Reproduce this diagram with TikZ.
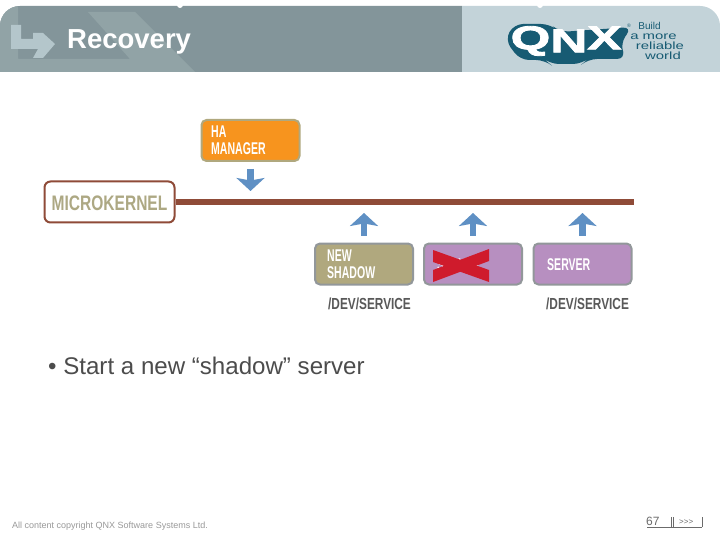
\documentclass[tikz,border=0pt]{standalone}
\usepackage{fontspec}
\usetikzlibrary{arrows.meta}
\setmainfont{Liberation Sans}
\newfontfamily\cond[FakeStretch=0.62]{Liberation Sans Bold}
\newfontfamily\condwide[FakeStretch=0.74]{Liberation Sans Bold}
\newfontfamily\logofont[FakeStretch=1.55,FakeBold=2.5]{Liberation Sans Bold}
\newfontfamily\tagfont[FakeStretch=1.42]{Liberation Sans}
\definecolor{band}{HTML}{83959A}
\definecolor{bandlight}{HTML}{91A3A6}
\definecolor{bandright}{HTML}{C3D3D9}
\definecolor{glyph}{HTML}{B4C6CB}
\definecolor{teal}{HTML}{175B73}
\definecolor{brick}{HTML}{8F4B38}
\definecolor{khaki}{HTML}{B0A87E}
\definecolor{khakitxt}{HTML}{ADA883}
\definecolor{purple}{HTML}{B78FC0}
\definecolor{edgegray}{HTML}{92979A}
\definecolor{orangebox}{HTML}{F7941E}
\definecolor{arrowblue}{HTML}{5F90C4}
\definecolor{crossred}{HTML}{CF1B2C}
\definecolor{foot}{HTML}{999999}
\tikzset{
  x=1pt,y=-1pt,
  box/.style={draw=edgegray,line width=2pt,rounded corners=5pt,minimum width=98pt,minimum height=41pt,inner sep=0pt},
  boxlabel/.style={anchor=west,text=white,font=\cond\fontsize{17}{16.5}\selectfont,align=left,inner sep=0pt},
  devlabel/.style={anchor=west,text=black!65,font=\condwide\fontsize{16}{16}\selectfont,inner sep=0pt},
  upflow/.style={draw=arrowblue,line width=6.5pt,-{Stealth[length=13pt,width=28pt,inset=2.5pt]},shorten <=7pt},
  tag/.style={anchor=center,text=teal,inner sep=0pt,font=\tagfont\fontsize{10.5}{10.5}\selectfont},
}
\begin{document}
\begin{tikzpicture}
\useasboundingbox (0,0) rectangle (720,540);
\fill[white] (0,0) rectangle (720,540);
% header
\begin{scope}
\clip[rounded corners=20pt] (0,90) -- (0,6) -- (720,6) -- (720,90) -- cycle;
\fill[band] (0,0) rectangle (462,72);
\fill[bandright] (462,0) rectangle (720,72);
\fill[bandlight] (0,72) -- (0,0) -- (18,0) -- (18,59) -- (130,59) -- (88,12) -- (135,12) -- (195,72) -- cycle;
\end{scope}
\fill[glyph] (11,25) -- (21,25) -- (21,39) -- (33,39) -- (33,33) -- (43,33) -- (55,44) -- (43,58) -- (33,58) -- (38,49) -- (11,49) -- cycle;
\fill[white] (180,5) circle[radius=3];
\fill[white] (540,5) circle[radius=3];
\node[anchor=base west,inner sep=0pt,text=white,font=\bfseries\fontsize{27.5}{30}\selectfont] (title) at (67,49) {Recovery};
% logo
\fill[teal,rounded corners=9pt] (505,40) -- (514,24) -- (550,24) -- (560,32) -- (632,27) -- (620,44) -- (626,59) -- (588,59) -- (582,64) -- (550,64) -- (545,60) -- (520,60) -- cycle;
\node[anchor=center,inner sep=0pt,text=white,font=\logofont\fontsize{33}{33}\selectfont] (qnx) at (566,41) {Q\raisebox{-3pt}{N}X};
\node[tag,font=\fontsize{5}{5}\selectfont] (reg) at (629,26) {®};
\node[tag,font=\fontsize{10}{10}\selectfont] (t1) at (649.5,26) {Build};
\node[tag] (t2) at (653.5,36.5) {a more};
\node[tag] (t3) at (660,46) {reliable};
\node[tag] (t4) at (663,55.5) {world};
% diagram
\node[box,fill=orangebox,draw=khaki] (ha) at (250.5,140.5) {};
\node[boxlabel] (halab) at (211,140) {HA\\MANAGER};
\node[draw=brick,fill=white,line width=2pt,rounded corners=6pt,minimum width=130pt,minimum height=41pt,inner sep=0pt] (mk) at (109.5,202) {};
\node[anchor=center,inner sep=0pt,text=khakitxt,font=\condwide\fontsize{21}{21}\selectfont] (mklab) at (109.5,203) {MICROKERNEL};
\coordinate (busend) at (634,202);
\draw[brick,line width=5.5pt] (mk.east) -- (busend);
\node[box,fill=khaki] (shadow) at (364,264) {};
\node[boxlabel] (shlab) at (327,264) {NEW\\SHADOW};
\node[box,fill=purple] (dead) at (473,264) {};
\node[boxlabel] (deadlab) at (437,265) {SERVER};
\node[box,fill=purple] (srv) at (582.5,264) {};
\node[boxlabel] (srvlab) at (547,265) {SERVER};
\fill[crossred] (433,250) -- (489,270) -- (489,282) -- (433,262) -- cycle;
\fill[crossred] (433,270) -- (489,249) -- (489,261) -- (433,282) -- cycle;
\draw[upflow,shorten >=11pt] (ha.south) -- (ha.south |- mk.east);
\draw[upflow,shorten >=11pt] (shadow.north) -- (shadow.north |- busend);
\draw[upflow,shorten >=11pt] (dead.north) -- (dead.north |- busend);
\draw[upflow,shorten >=11pt] (srv.north) -- (srv.north |- busend);
\node[devlabel] (dev1) at (328,304) {/DEV/SERVICE};
\node[devlabel] (dev2) at (546,304) {/DEV/SERVICE};
% text
\node[anchor=base west,inner sep=0pt,text=black!70,font=\fontsize{24.1}{26}\selectfont] (bullet) at (48,374) {• Start a new “shadow” server};
\node[anchor=base west,inner sep=0pt,text=foot,font=\fontsize{9}{12}\selectfont] (copy) at (12,528) {All content copyright QNX Software Systems Ltd.};
\node[anchor=base west,inner sep=0pt,text=foot!70!black,font=\fontsize{12}{12}\selectfont] (page) at (646,525) {67};
\node[anchor=base west,inner sep=0pt,text=foot!70!black,font=\fontsize{8}{8}\selectfont] (next) at (679,524) {{>}{>}{>}};
\coordinate (fa) at (647,527);
\coordinate (fb) at (702,527);
\draw[foot!70!black,line width=0.8pt] (fa) -- (fb) (671,517) -- (671,527) (673,517) -- (673,527) (702,517) -- (702,527);
\end{tikzpicture}
\end{document}
